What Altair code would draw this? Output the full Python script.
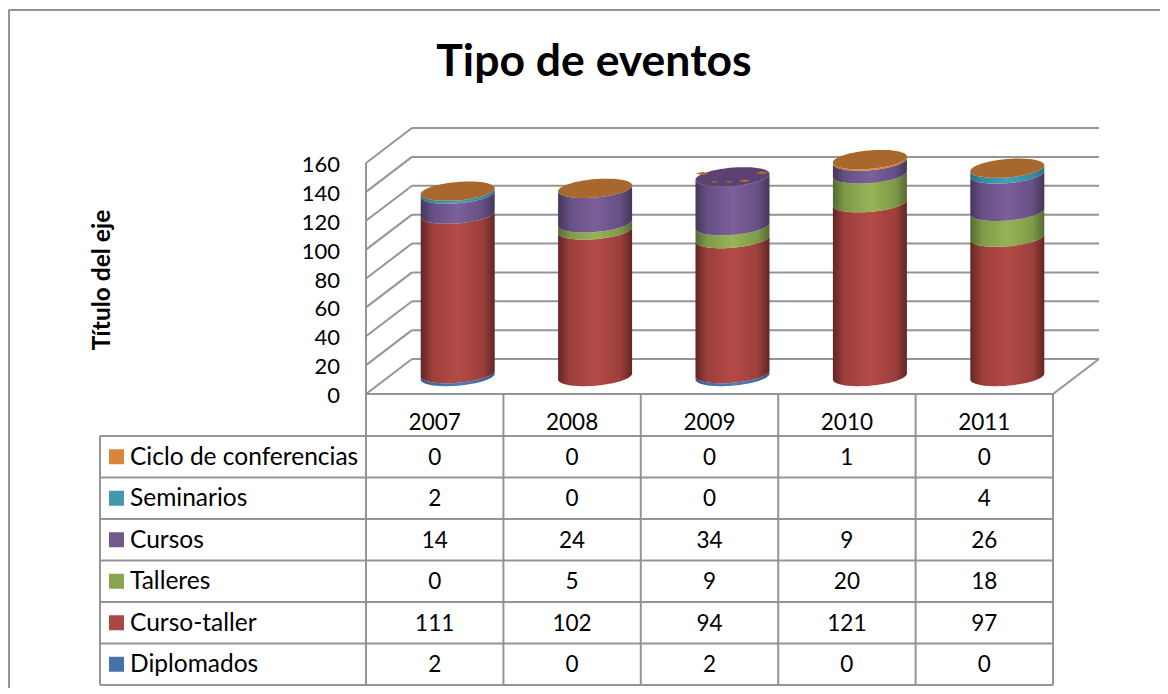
import math
import altair as alt
import pandas as pd

years = ["2007", "2008", "2009", "2010", "2011"]
series_names = ["Ciclo de conferencias", "Seminarios", "Cursos", "Talleres", "Curso-taller", "Diplomados"]
diplomados = [2, 0, 2, 0, 0]
curso_taller = [111, 102, 94, 121, 97]
talleres = [0, 5, 9, 20, 18]
cursos = [14, 24, 34, 9, 26]
seminarios = [2, 0, 0, None, 4]
ciclo = [0, 0, 0, 1, 0]
y_ticks = [0, 20, 40, 60, 80, 100, 120, 140, 160]

table_rows = [ciclo, seminarios, cursos, talleres, curso_taller, diplomados]
stack_order = [("Diplomados", diplomados), ("Curso-taller", curso_taller), ("Talleres", talleres),
               ("Cursos", cursos), ("Seminarios", seminarios), ("Ciclo de conferencias", ciclo)]
swatch = {"Ciclo de conferencias": "#dd843c", "Seminarios": "#4198af", "Cursos": "#71588f",
          "Talleres": "#89a54e", "Curso-taller": "#aa4643", "Diplomados": "#4572a7"}
shades = {"Ciclo de conferencias": ("#a8621f", "#c97a30", "#e88a3c"), "Seminarios": ("#2a6f82", "#38899f", "#43a0bb"),
          "Cursos": ("#463659", "#655083", "#7d5f9a"), "Talleres": ("#566a30", "#7f9a48", "#97b556"),
          "Curso-taller": ("#632624", "#9d3f3c", "#b34b48"), "Diplomados": ("#2f5684", "#3f6da3", "#4a7ebb")}
GREY = "#8f8f8f"
FONT = "Lato"

# scale geometry: one x unit = one table column, one y unit = one axis unit
PX_X = 137.4
PX_Y = 1.44375
W, H = 1152, 680
x_dom = [-358 / PX_X, (W - 358) / PX_X]
y_dom = [-(8 + H - 394) / PX_Y, (394 - 8) / PX_Y]
xs = alt.Scale(domain=x_dom, range=[0, W], nice=False, zero=False)
ys = alt.Scale(domain=y_dom, range=[H, 0], nice=False, zero=False)
DX, DY = 46 / PX_X, 35 / PX_Y
rows_y = [-(436 - 394) / PX_Y - i * 41.5 / PX_Y for i in range(7)]
LEFT = -266 / PX_X

def rules(data, color=GREY, width=2):
    return alt.Chart(pd.DataFrame(data, columns=["x", "x2", "y", "y2"])).mark_rule(
        color=color, strokeWidth=width, opacity=0.95).encode(
        x=alt.X("x:Q", scale=xs, axis=None), x2="x2:Q",
        y=alt.Y("y:Q", scale=ys, axis=None), y2="y2:Q")

# walls and floor
wall = [[DX, 5 + DX, t + DY, t + DY] for t in y_ticks]
wall += [[0, DX, t, t + DY] for t in y_ticks]
wall += [[0, 0, 0, 160], [5, 5 + DX, 0, DY]]
# table
table = [[0, 5, 0, 0]]
table += [[LEFT, 5, r, r] for r in rows_y]
table += [[LEFT, LEFT, rows_y[0], rows_y[-1]]]
table += [[c, c, 0, rows_y[-1]] for c in range(6)]
# page frame
frame = [[-357.5 / PX_X, x_dom[1], (394 - 10) / PX_Y, (394 - 10) / PX_Y],
         [-357 / PX_X, -357 / PX_X, (394 - 10) / PX_Y, y_dom[0]]]

# cylinders
A = 37 / PX_X
TILT = 3 / PX_Y
B = 9.2 / PX_Y
C_SCALE = 0.995
U = [math.cos(math.pi * (1 - i / 48)) for i in range(49)]

def profile(u, side):
    return -TILT * u + side * B * math.sqrt(max(0, 1 - u * u))

segs = {name: [] for name, _ in stack_order}
base = [0] * 5
for name, vals in stack_order:
    for i, v in enumerate(vals):
        if not v:
            continue
        lo, hi = base[i], base[i] + v
        base[i] = hi
        cx = i + 0.5 + DX / 2
        for u in U:
            segs[name].append({"g": years[i], "x": cx + A * u,
                               "y": DY / 2 + C_SCALE * lo - profile(u, 1),
                               "y2": DY / 2 + C_SCALE * hi - profile(u, 1)})

def grad(name):
    d, n, m = shades[name]
    return alt.Gradient(gradient="linear", x1=0, x2=1, y1=0, y2=0, stops=[
        alt.GradientStop(color=d, offset=0), alt.GradientStop(color=n, offset=0.16),
        alt.GradientStop(color=m, offset=0.5), alt.GradientStop(color=n, offset=0.84),
        alt.GradientStop(color=d, offset=1)])

layers = [rules(wall)]
for name, _ in stack_order:
    if segs[name]:
        layers.append(alt.Chart(pd.DataFrame(segs[name])).mark_area(fill=grad(name), stroke=None).encode(
            x=alt.X("x:Q", scale=xs, axis=None),
            y=alt.Y("y:Q", scale=ys, axis=None), y2="y2:Q", detail="g:N"))

caps, caps_purple = [], []
for i, y in enumerate(years):
    cx = i + 0.5 + DX / 2
    top = DY / 2 + C_SCALE * base[i]
    row = caps_purple if y == "2009" else caps
    for u in U:
        row.append({"g": y, "x": cx + A * u, "y": top - profile(u, 1), "y2": top - profile(u, -1)})
for rows, col in ((caps, "#a8682d"), (caps_purple, "#5a4272")):
    layers.append(alt.Chart(pd.DataFrame(rows)).mark_area(color=col).encode(
        x=alt.X("x:Q", scale=xs, axis=None),
        y=alt.Y("y:Q", scale=ys, axis=None), y2="y2:Q", detail="g:N"))

# orange flecks where the 2009 cap collides with the purple one
top09 = DY / 2 + C_SCALE * base[2]
fleck_u = [-0.81, -0.49, -0.1, 0.32, 0.8]
fleck_dy = [3.4, -5, -5, -4, 4]
fleck_size = [196, 64, 64, 144, 196]
flecks = pd.DataFrame({"x": [2.5 + DX / 2 + A * u for u in fleck_u],
                       "y": [top09 + d / PX_Y for d in fleck_dy],
                       "s": fleck_size})
layers.append(alt.Chart(flecks).mark_point(shape="M-1,0 L0,-0.22 L1,0 L0,0.22 Z", filled=True,
                                           color="#b36a25", opacity=1).encode(
    x=alt.X("x:Q", scale=xs, axis=None), y=alt.Y("y:Q", scale=ys, axis=None),
    size=alt.Size("s:Q", legend=None, scale=None)))

layers += [rules(table), rules(frame)]

# y axis labels, placed by the scale
layers.append(alt.Chart(pd.DataFrame({"y": y_ticks})).mark_text(
    align="right", baseline="middle", font=FONT, fontSize=22, color="#000000", dy=2).encode(
    x=alt.value(340 - 8), y=alt.Y("y:Q", scale=ys, axis=None), text=alt.Text("y:Q")))

# header cells
cells = [{"x": i + 0.5, "y": -28 / PX_Y, "t": y} for i, y in enumerate(years)]
labels, squares = [], []
for r, (name, vals) in enumerate(zip(series_names, table_rows)):
    yc = (rows_y[r] + rows_y[r + 1]) / 2
    for i, v in enumerate(vals):
        if v is not None:
            cells.append({"x": i + 0.5, "y": yc, "t": str(v)})
    labels.append({"x": LEFT + 30 / PX_X, "y": yc, "t": name})
    squares.append({"x": LEFT + 16.5 / PX_X, "y": yc, "s": name})

layers.append(alt.Chart(pd.DataFrame(cells)).mark_text(
    align="center", baseline="middle", font=FONT, fontSize=22.5, color="#000000", dy=1).encode(
    x=alt.X("x:Q", scale=xs, axis=None), y=alt.Y("y:Q", scale=ys, axis=None), text="t:N"))
layers.append(alt.Chart(pd.DataFrame(labels)).mark_text(
    align="left", baseline="middle", font=FONT, fontSize=24.5, color="#000000", dy=1).encode(
    x=alt.X("x:Q", scale=xs, axis=None), y=alt.Y("y:Q", scale=ys, axis=None), text="t:N"))
layers.append(alt.Chart(pd.DataFrame(squares)).mark_square(size=225, opacity=1).encode(
    x=alt.X("x:Q", scale=xs, axis=None), y=alt.Y("y:Q", scale=ys, axis=None),
    color=alt.Color("s:N", legend=None, scale=alt.Scale(domain=list(swatch), range=list(swatch.values())))))

# titles
layers.append(alt.Chart(pd.DataFrame({"t": ["Tipo de eventos"]})).mark_text(
    font=FONT, fontSize=44.5, fontWeight="bold", color="#000000", align="center", baseline="middle").encode(
    x=alt.value(594 - 8), y=alt.value(63 - 8), text="t:N"))
layers.append(alt.Chart(pd.DataFrame({"t": ["Título del eje"]})).mark_text(
    font=FONT, fontSize=24.5, fontWeight="bold", color="#000000", align="center", baseline="middle", angle=270).encode(
    x=alt.value(103 - 8), y=alt.value(280 - 8), text="t:N"))

chart = alt.layer(*layers).resolve_scale(color="independent").properties(
    width=W, height=H, padding=0, background="#ffffff", autosize=alt.AutoSizeParams(type="none")
).configure_view(stroke=None, strokeWidth=0)

chart.save("out.html", embed_options={"renderer": "svg", "actions": False})
